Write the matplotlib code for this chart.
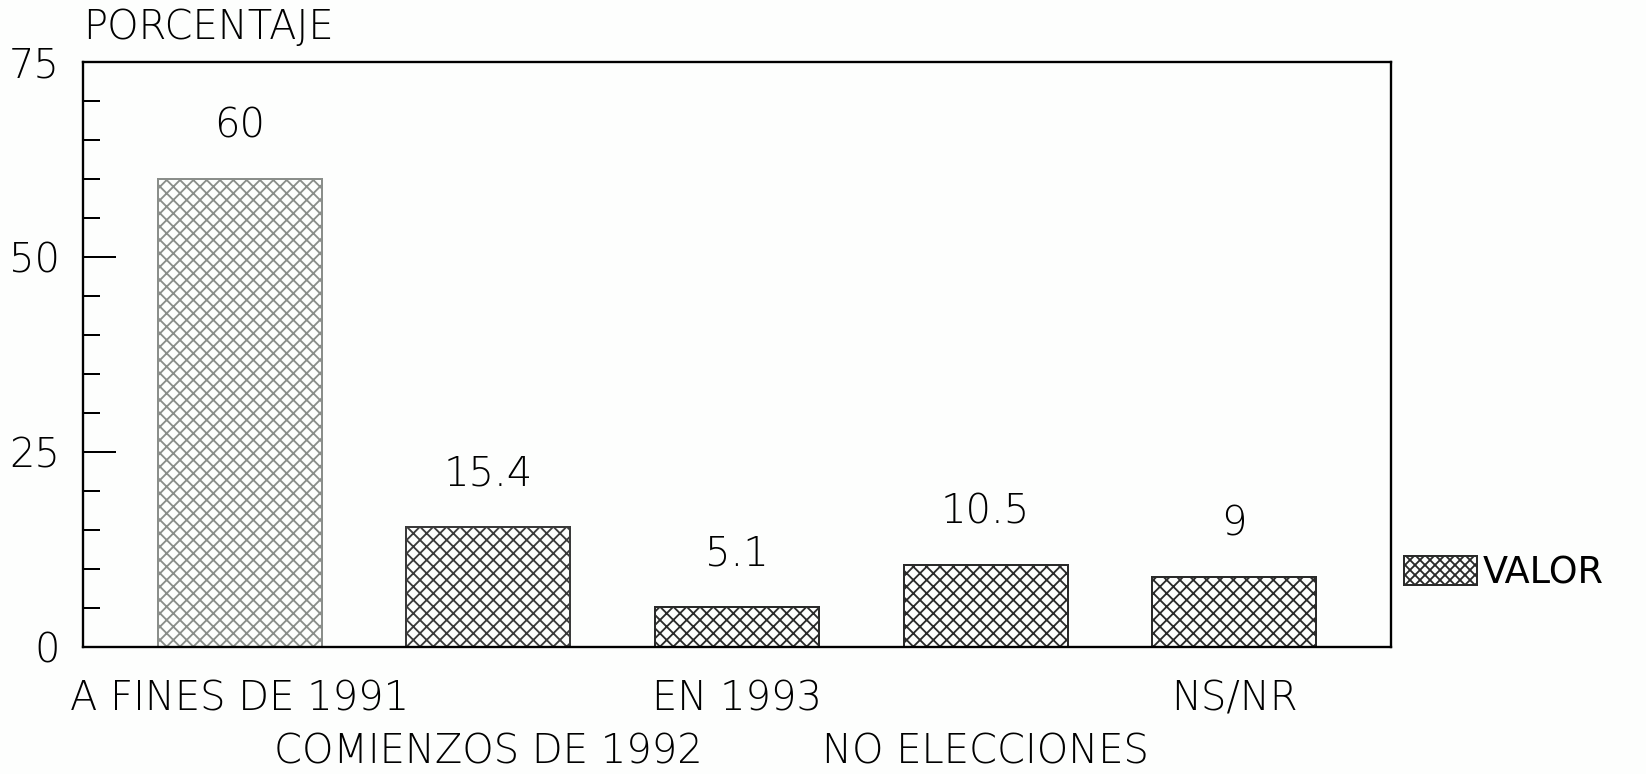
import matplotlib
matplotlib.use("Agg")
import matplotlib.pyplot as plt
from matplotlib.patches import Patch
import matplotlib.transforms as mtransforms
import numpy as np

categories = ["A FINES DE 1991", "COMIENZOS DE 1992", "EN 1993",
              "NO ELECCIONES", "NS/NR"]
values = [60, 15.4, 5.1, 10.5, 9]
value_labels = ["60", "15.4", "5.1", "10.5", "9"]
y_ticks = [0, 25, 50, 75]

plt.rcParams["font.family"] = ["DejaVu Sans"]
plt.rcParams["hatch.linewidth"] = 1.1

fig = plt.figure(figsize=(1646 / 120, 774 / 120), dpi=120, facecolor="#fdfefd")
ax = fig.add_axes([0.0504, 0.164, 0.7946, 0.756])
ax.set_facecolor("#fdfefd")

x = np.arange(len(categories))
edge_colors = ["#8a8e8a", "#3a3a3a", "#2a2a2a", "#2a2a2a", "#2a2a2a"]
bars = ax.bar(x, values, width=0.66, color="none", edgecolor=edge_colors,
              hatch="xxx", linewidth=1.2)
fs = 24
for b, lab in zip(bars, value_labels):
    ax.annotate(lab, (b.get_x() + b.get_width() / 2, b.get_height()),
                xytext=(0, 20), textcoords="offset points",
                ha="center", va="bottom", fontsize=fs, fontweight="light")

ax.set_xlim(-0.63, 4.63)
ax.set_ylim(0, 75)

# staggered category labels, drawn as texts under the axis
ax.set_xticks([])
trans = mtransforms.blended_transform_factory(ax.transData, ax.transAxes)
for i, c in enumerate(categories):
    off = -31 if i % 2 == 0 else -63
    ax.annotate(c, (i, 0), xycoords=trans, xytext=(0, off),
                textcoords="offset points", ha="center", va="center",
                fontsize=fs, fontweight="light")

ax.set_yticks(y_ticks)
ax.set_yticklabels([str(v) for v in y_ticks], fontsize=fs, fontweight="light")
ax.set_yticks(np.arange(0, 76, 5), minor=True)
ax.tick_params(axis="y", which="major", direction="in", length=20, width=1.2, pad=14)
ax.tick_params(axis="y", which="minor", direction="in", length=10, width=1.2)

for s in ax.spines.values():
    s.set_linewidth(1.4)

ax.text(0.0, 1.025, "PORCENTAJE", transform=ax.transAxes, ha="left", va="bottom",
        fontsize=fs, fontweight="light")

handle = Patch(facecolor="none", edgecolor="#2a2a2a", hatch="xxxx", linewidth=1.2)
fig.legend([handle], ["VALOR"], loc="center left", bbox_to_anchor=(0.853, 0.26),
           frameon=False, fontsize=22, handlelength=2.0, handleheight=0.8,
           handletextpad=0.15, borderpad=0, borderaxespad=0)

fig.savefig("out.png", dpi=120, facecolor=fig.get_facecolor())
